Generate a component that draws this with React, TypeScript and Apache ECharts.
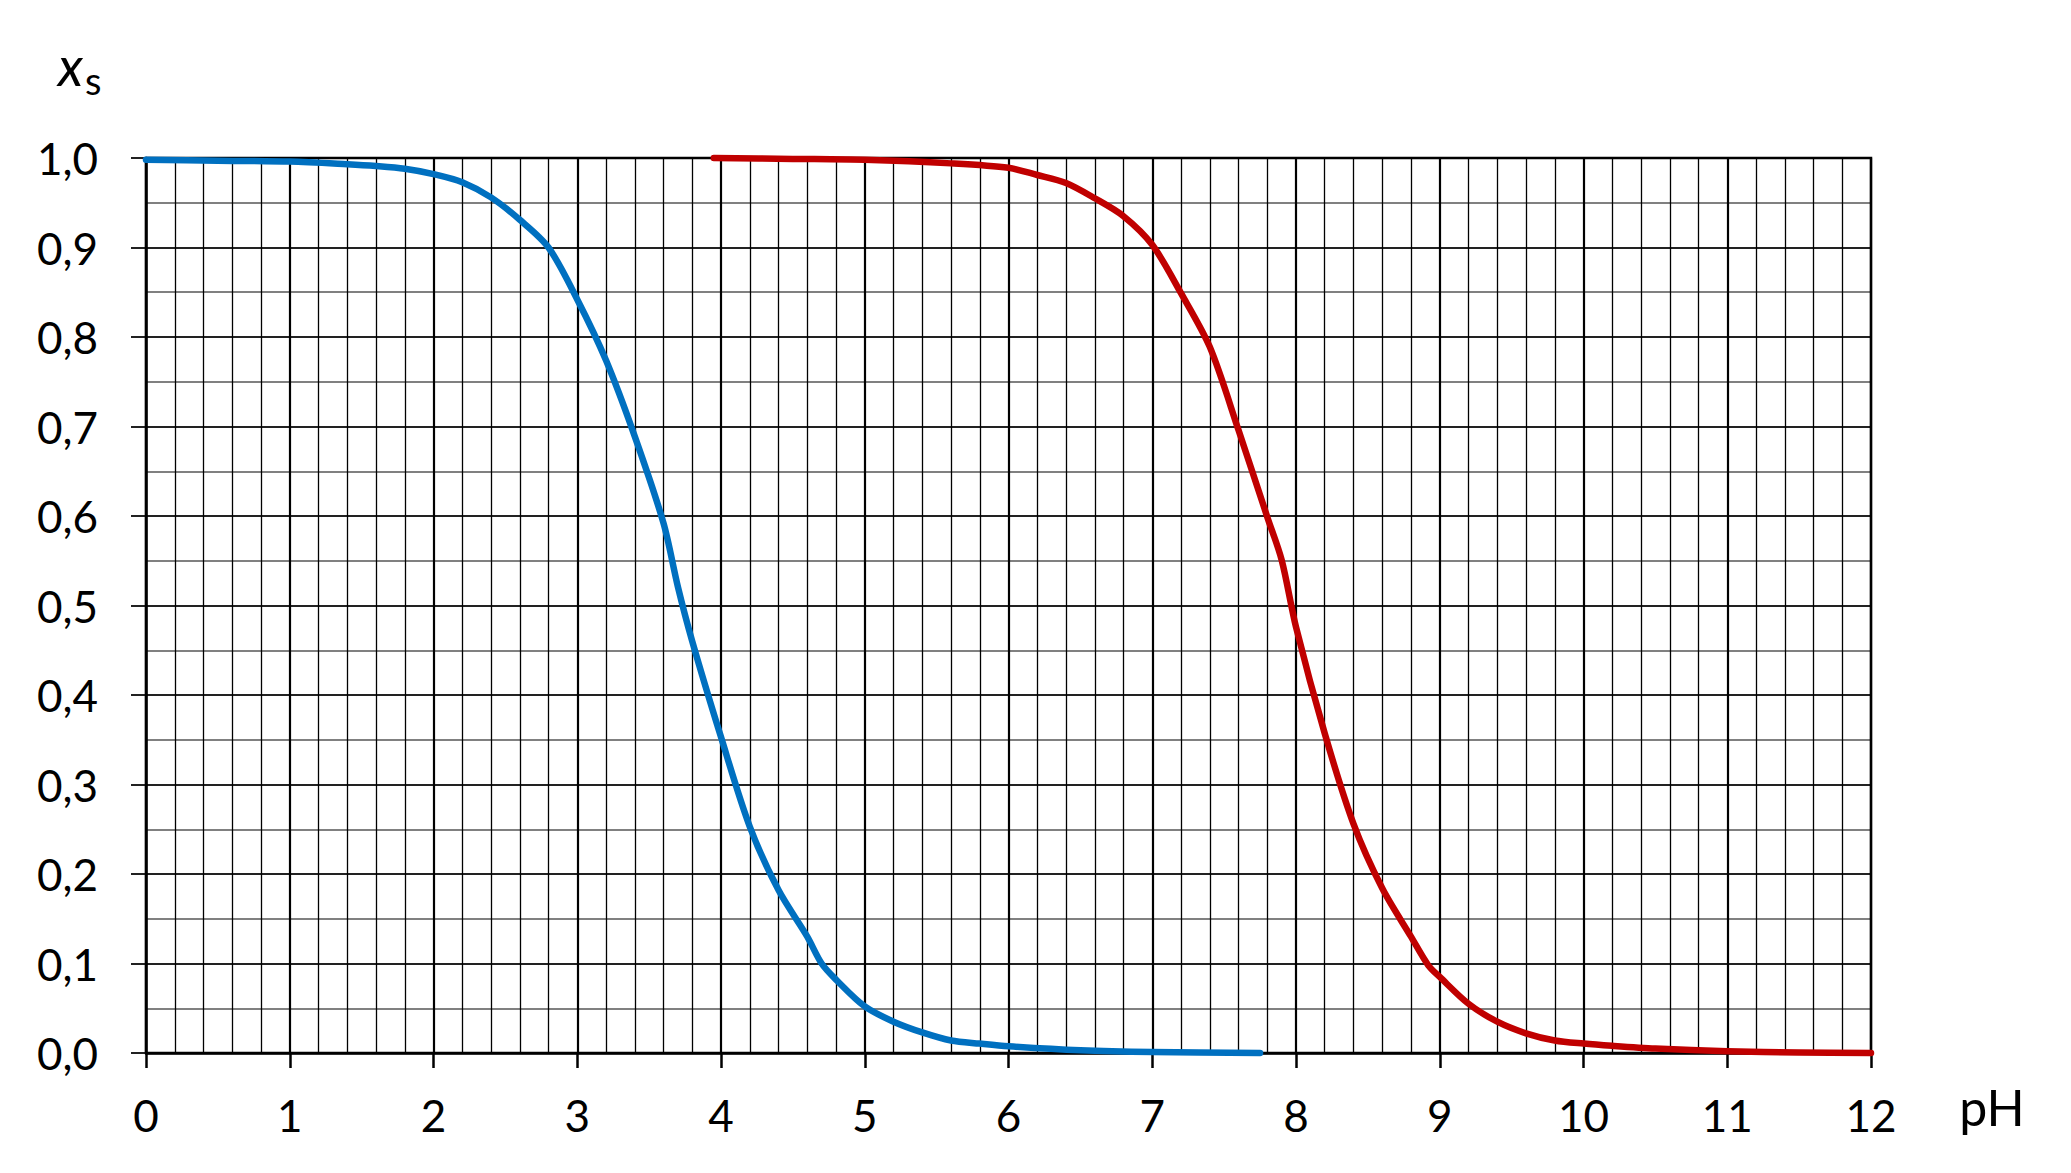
import React, { useEffect, useRef } from "react";
import * as echarts from "echarts";

const blueX = [0, 0.5, 1, 1.4, 1.6, 1.8, 2.0, 2.2, 2.4, 2.6, 2.8, 3.0, 3.2, 3.4, 3.6, 3.7, 3.8, 4.0, 4.2, 4.4, 4.6, 4.7, 4.8, 5.0, 5.2, 5.4, 5.6, 5.8, 6.0, 6.5, 7.0, 7.75];
const blueY = [0.998, 0.997, 0.996, 0.993, 0.991, 0.988, 0.982, 0.973, 0.956, 0.931, 0.9, 0.842, 0.774, 0.689, 0.592, 0.521, 0.46, 0.353, 0.253, 0.182, 0.13, 0.1, 0.082, 0.052, 0.035, 0.023, 0.014, 0.0105, 0.0075, 0.003, 0.001, 0.0];

const redX = [3.95, 4.5, 5.0, 5.6, 6.0, 6.2, 6.4, 6.6, 6.8, 7.0, 7.2, 7.4, 7.6, 7.8, 7.9, 8.0, 8.2, 8.4, 8.6, 8.8, 8.92, 9.0, 9.2, 9.4, 9.6, 9.8, 10.0, 10.2, 10.5, 11.0, 11.5, 12.0];
const redY = [1.0, 0.999, 0.998, 0.994, 0.989, 0.981, 0.972, 0.955, 0.935, 0.903, 0.849, 0.789, 0.696, 0.599, 0.551, 0.476, 0.357, 0.256, 0.184, 0.13, 0.098, 0.085, 0.055, 0.035, 0.022, 0.014, 0.0105, 0.008, 0.005, 0.002, 0.0005, 0.0];

const xMin = 0;
const xMax = 12;
const yMin = 0;
const yMax = 1;

const FONT = "Lato, 'Open Sans', sans-serif";

export default function App() {
  const ref = useRef<HTMLDivElement>(null);
  useEffect(() => {
    if (!ref.current) return;
    const chart = echarts.init(ref.current, undefined, { renderer: "svg" });
    const blue = blueX.map((x, i) => [x, blueY[i]]);
    const red = redX.map((x, i) => [x, redY[i]]);
    chart.setOption({
      animation: false,
      backgroundColor: "#ffffff",
      grid: { left: 146, top: 158, width: 1725, height: 895, containLabel: false },
      xAxis: {
        type: "value",
        min: xMin,
        max: xMax,
        interval: 1,
        axisLine: { show: true, onZero: false, lineStyle: { color: "#000", width: 2.5 } },
        axisTick: { show: true, length: 15, inside: false, lineStyle: { color: "#000", width: 2.5 } },
        axisLabel: { margin: 40, fontSize: 44, fontFamily: FONT, color: "#000" },
        splitLine: { show: true, lineStyle: { color: "#000", width: 2.2 } },
        minorTick: { show: false, splitNumber: 5 },
        minorSplitLine: { show: true, lineStyle: { color: "#000", width: 1.3 } },
      },
      yAxis: {
        type: "value",
        min: yMin,
        max: yMax,
        interval: 0.1,
        axisLine: { show: true, lineStyle: { color: "#000", width: 2.5 } },
        axisTick: { show: true, length: 15, inside: false, lineStyle: { color: "#222", width: 2 } },
        axisLabel: {
          margin: 48,
          fontSize: 44,
          fontFamily: FONT,
          color: "#000",
          formatter: (v: number) => v.toFixed(1).replace(".", ","),
        },
        splitLine: { show: true, lineStyle: { color: "#222", width: 2 } },
        minorTick: { show: false, splitNumber: 2 },
        minorSplitLine: { show: true, lineStyle: { color: "#808080", width: 2 } },
      },
      graphic: [
        {
          type: "rect",
          shape: { x: 146, y: 158, width: 1725, height: 895 },
          style: { fill: "none", stroke: "#000", lineWidth: 2.5 },
          silent: true,
          z: 1,
        },
        {
          type: "text",
          left: 58,
          top: 38,
          style: {
            text: "{i|x}{s|s}",
            rich: {
              i: { fontSize: 54, fontStyle: "italic", fontFamily: FONT, fill: "#000" },
              s: { fontSize: 38, fontFamily: FONT, fill: "#000", padding: [30, 0, 0, 2] },
            },
          },
        },
        {
          type: "text",
          x: 1992,
          y: 1132,
          style: {
            text: "pH",
            fontSize: 50,
            fontFamily: FONT,
            fill: "#000",
            align: "center",
            verticalAlign: "bottom",
          },
        },
      ],
      series: [
        {
          type: "line",
          data: blue,
          showSymbol: false,
          clip: false,
          smooth: 0.3,
          lineStyle: { color: "#0070C0", width: 6.5, cap: "round", join: "round" },
          z: 5,
        },
        {
          type: "line",
          data: red,
          showSymbol: false,
          clip: false,
          smooth: 0.3,
          lineStyle: { color: "#C00000", width: 6.5, cap: "round", join: "round" },
          z: 5,
        },
      ],
    });
    return () => chart.dispose();
  }, []);
  return (
    <div
      ref={ref}
      style={{ position: "absolute", left: 0, top: 0, width: 2071, height: 1173, background: "#fff" }}
    />
  );
}
